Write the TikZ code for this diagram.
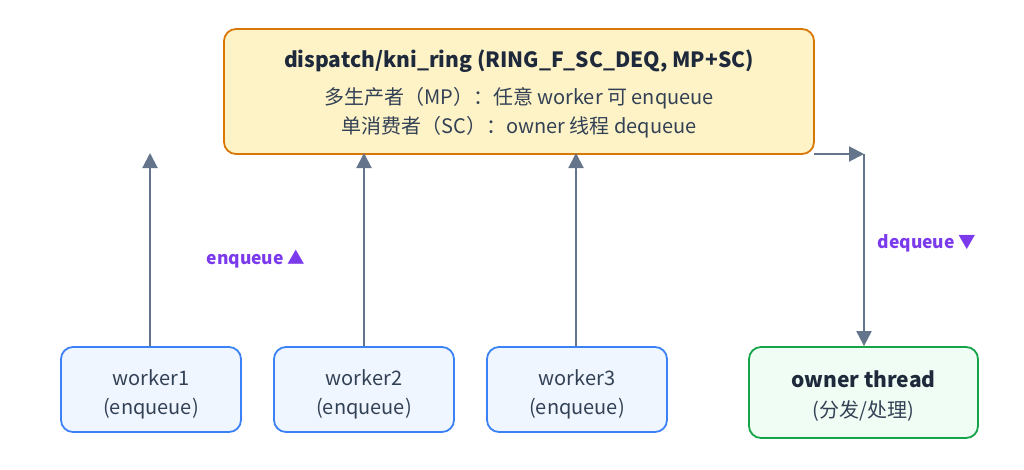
\documentclass[tikz,border=0pt]{standalone}
\usepackage{fontspec}
\setmainfont{Noto Sans CJK SC}
\usetikzlibrary{arrows.meta}
\definecolor{ringfill}{HTML}{FEF3C7}
\definecolor{ringdraw}{HTML}{D97706}
\definecolor{wfill}{HTML}{EFF6FF}
\definecolor{wdraw}{HTML}{3B82F6}
\definecolor{ofill}{HTML}{F0FDF4}
\definecolor{odraw}{HTML}{16A34A}
\definecolor{arrc}{HTML}{64748B}
\definecolor{lblc}{HTML}{7C3AED}
\definecolor{txt}{HTML}{1E293B}
\definecolor{txt2}{HTML}{334155}
\tikzset{
  box/.style={rounded corners=12pt, line width=1.8pt, inner sep=0pt, align=center, text=txt2},
  ringbox/.style={box, fill=ringfill, draw=ringdraw, minimum width=590pt, minimum height=125pt},
  workerbox/.style={box, fill=wfill, draw=wdraw, minimum width=180pt, minimum height=85pt},
  ownerbox/.style={box, fill=ofill, draw=odraw, minimum width=229pt, minimum height=91pt},
  normtext/.style={text=txt2, font=\fontsize{20}{24}\selectfont},
  boldtext/.style={text=txt, font=\fontsize{21}{24}\bfseries\selectfont},
  arr/.style={draw=arrc, line width=2pt, -{Triangle[length=15pt,width=15pt]}},
  lbl/.style={text=lblc, font=\fontsize{17.5}{20}\bfseries\selectfont}
}
\begin{document}
\begin{tikzpicture}[x=1pt,y=-1pt]
\useasboundingbox (0,0) rectangle (1024,469);
\node[ringbox] (ring) at (519,91.5) {};
\node[boldtext] (title) at (519,61) {dispatch/kni\_ring (RING\_F\_SC\_DEQ, MP+SC)};
\node[normtext] (l1) at (519,98) {多生产者（MP）：任意 worker 可 enqueue};
\node[normtext] (l2) at (519,127) {单消费者（SC）：owner 线程 dequeue};

\node[workerbox] (w1) at (151,389.5) {};
\node[workerbox] (w2) at (364,389.5) {};
\node[workerbox] (w3) at (577,389.5) {};
\node[normtext] (w1a) at (151,378) {worker1};
\node[normtext] (w1b) at (151,409) {(enqueue)};
\node[normtext] (w2a) at (364,378) {worker2};
\node[normtext] (w2b) at (364,409) {(enqueue)};
\node[normtext] (w3a) at (577,378) {worker3};
\node[normtext] (w3b) at (577,409) {(enqueue)};
\node[ownerbox] (own) at (863.5,392.5) {};
\node[boldtext] (ot) at (863.5,379) {owner thread};
\node[normtext] (os) at (863.5,411) {(分发/处理)};

\coordinate (a1) at (150,153);
\coordinate (a2) at (364,153);
\coordinate (a3) at (576,153);
\coordinate (rs) at (814,154);
\coordinate (corner) at (864,154);
\draw[arr] (w1.north -| a1) -- (a1);
\draw[arr] (w2.north -| a2) -- (a2);
\draw[arr] (w3.north -| a3) -- (a3);
\draw[arr] (rs) -- (corner);
\draw[arr] (corner) -- (corner |- own.north);

\node[lbl] (enq) at (256,259) {enqueue ▲};
\node[lbl] (deq) at (927,243) {dequeue ▼};
\end{tikzpicture}
\end{document}
